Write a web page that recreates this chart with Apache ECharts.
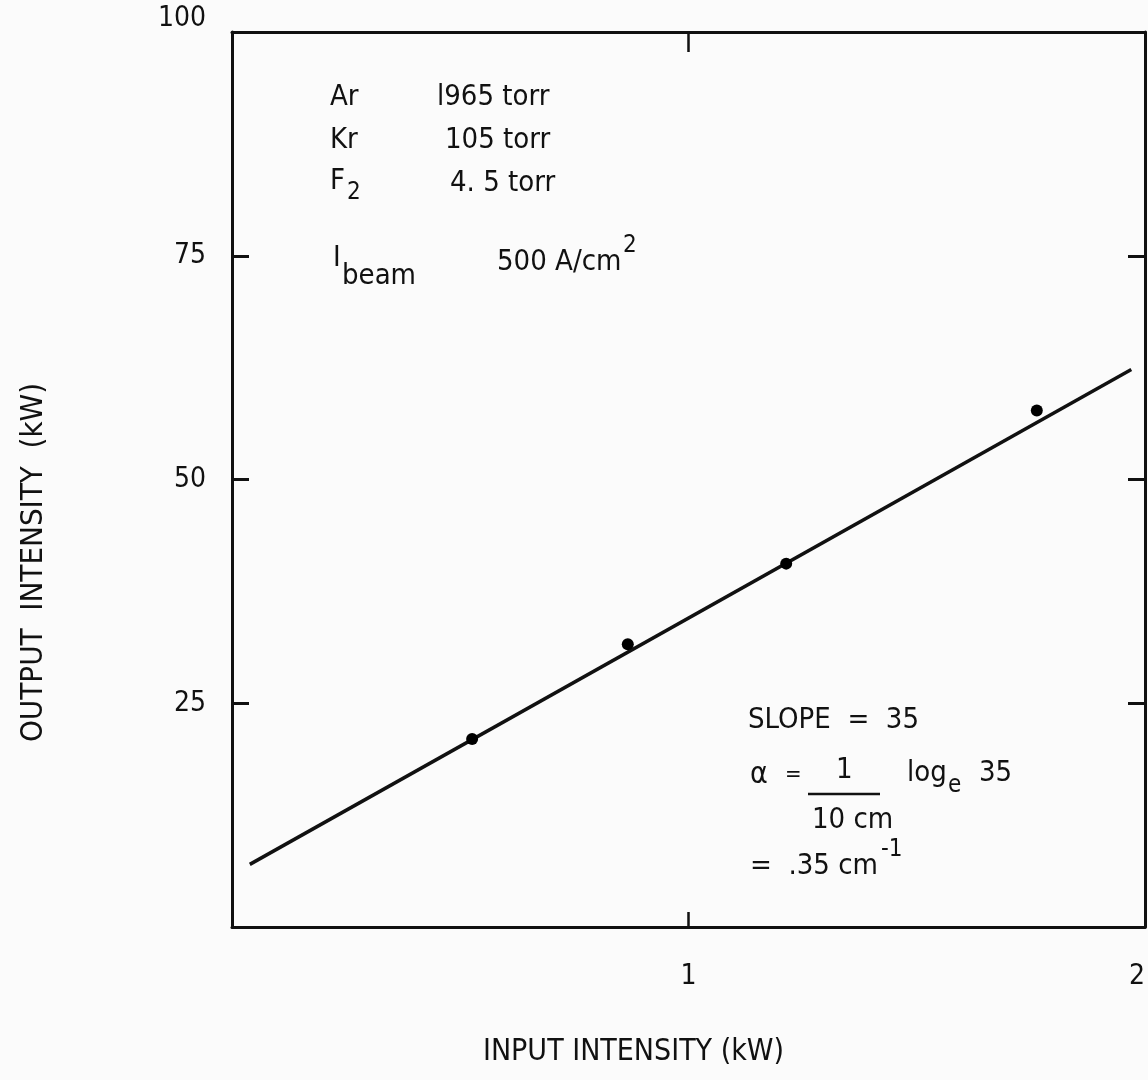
<!DOCTYPE html>
<html>
<head>
<meta charset="utf-8">
<script src="https://cdn.jsdelivr.net/npm/echarts@6/dist/echarts.min.js"></script>
<style>
html,body{margin:0;padding:0;background:#fbfbfb;}
#chart{width:1148px;height:1080px;}
</style>
</head>
<body>
<div id="chart"></div>
<script>
// Measured points
const inputKW = [0.526, 0.867, 1.214, 1.763];
const outputKW = [21.0, 31.6, 40.6, 57.7];
// Fitted line endpoints
const fitX = [0.039, 1.97];
const fitY = [7.0, 62.3];
// Tick labels
const xTicks = [1, 2];
const yTicks = [25, 50, 75, 100];
const xTitle = 'INPUT INTENSITY (kW)';
const yTitle = 'OUTPUT  INTENSITY  (kW)';

const FONT = "'Liberation Sans Narrow','DejaVu Sans Condensed',sans-serif";
const TFONT = "'DejaVu Sans Condensed','Liberation Sans Narrow',sans-serif";
const INK = '#111';

const chart = echarts.init(document.getElementById('chart'), null, {renderer: 'canvas'});

function txt(text, x, y, size, extra) {
  return Object.assign({
    type: 'text', x: x, y: y,
    style: {text: text, fill: INK, font: size + 'px ' + FONT, textVerticalAlign: 'middle'}
  }, extra || {});
}

const lineAx = {show: true, onZero: false, lineStyle: {color: INK, width: 3}};

const option = {
  backgroundColor: '#fbfbfb',
  animation: false,
  grid: {left: 232, right: 3, top: 32, bottom: 153, containLabel: false, outerBoundsMode: 'none'},
  xAxis: [{
    type: 'value', min: 0, max: 2, interval: 1, position: 'bottom',
    axisLine: lineAx,
    axisTick: {show: true, inside: true, length: 15, lineStyle: {color: INK, width: 2.5}},
    splitLine: {show: false},
    axisLabel: {
      margin: 36, color: INK, fontSize: 28, fontFamily: FONT, alignMaxLabel: 'right',
      formatter: v => xTicks.indexOf(v) >= 0 ? String(v) : ''
    },
    name: xTitle, nameLocation: 'middle', nameGap: 110,
    nameTextStyle: {color: INK, fontSize: 30, fontFamily: TFONT, padding: [0, 110, 0, 0]}
  }, {
    type: 'value', min: 0, max: 2, interval: 1, position: 'top',
    axisLine: lineAx,
    axisTick: {show: true, inside: true, length: 20, lineStyle: {color: INK, width: 2.5}},
    axisLabel: {show: false}, splitLine: {show: false}
  }],
  yAxis: [{
    type: 'value', min: 0, max: 100, interval: 25, position: 'left',
    axisLine: lineAx,
    axisTick: {show: true, inside: true, length: 17, lineStyle: {color: INK, width: 3}},
    splitLine: {show: false},
    axisLabel: {
      margin: 26, color: INK, fontSize: 28, fontFamily: FONT,
      formatter: v => yTicks.indexOf(v) < 0 ? '' : (v === 100 ? '{t|' + v + '}' : String(v)),
      rich: {t: {color: INK, fontSize: 28, fontFamily: FONT, padding: [0, 0, 26, 0]}}
    },
    name: yTitle, nameLocation: 'middle', nameGap: 183, nameRotate: 90,
    nameTextStyle: {color: INK, fontSize: 31, fontFamily: TFONT, padding: [0, 166, 0, 0]}
  }, {
    type: 'value', min: 0, max: 100, interval: 25, position: 'right',
    axisLine: lineAx,
    axisTick: {show: true, inside: true, length: 17, lineStyle: {color: INK, width: 3}},
    axisLabel: {show: false}, splitLine: {show: false}
  }],
  series: [{
    type: 'line', xAxisIndex: 0, yAxisIndex: 0,
    data: fitX.map((x, i) => [x, fitY[i]]),
    symbol: 'none', lineStyle: {color: INK, width: 3.5}, silent: true
  }, {
    type: 'scatter', xAxisIndex: 0, yAxisIndex: 0,
    data: inputKW.map((x, i) => [x, outputKW[i]]),
    symbol: 'circle', symbolSize: 12, itemStyle: {color: '#000', opacity: 1}, silent: true, z: 5
  }],
  graphic: [
    txt('Ar', 330, 97, 29),
    txt('l965 torr', 437, 97, 29),
    txt('Kr', 330, 140, 29),
    txt('105 torr', 445, 140, 29),
    txt('F', 330, 181, 29),
    txt('2', 347, 193, 24),
    txt('4. 5 torr', 450, 183, 29),
    txt('I', 333, 258, 29),
    txt('beam', 342, 276, 29),
    txt('500 A/cm', 497, 262, 29),
    txt('2', 623, 246, 24),
    txt('SLOPE  =  35', 748, 720, 29),
    txt('\u03b1', 750, 775, 30),
    txt('=', 785, 775, 22),
    txt('1', 836, 770, 29),
    {type: 'line', shape: {x1: 808, y1: 794, x2: 880, y2: 794}, style: {stroke: INK, lineWidth: 2.5}},
    txt('10 cm', 812, 820, 29),
    txt('log', 907, 773, 29),
    txt('e', 948, 786, 24),
    txt('35', 979, 773, 29),
    txt('=  .35 cm', 750, 866, 29),
    txt('-1', 881, 850, 24)
  ]
};
chart.setOption(option);
</script>
</body>
</html>
